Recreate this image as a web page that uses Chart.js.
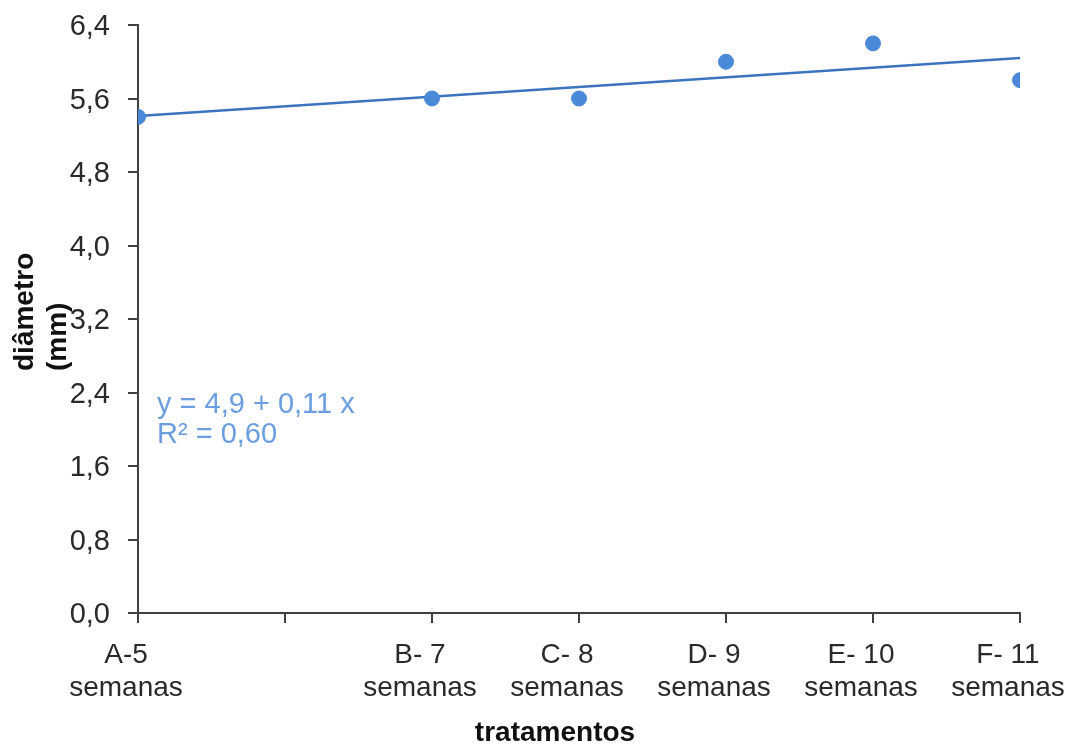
<!DOCTYPE html>
<html>
<head>
<meta charset="utf-8">
<script src="https://cdn.jsdelivr.net/npm/chart.js@4"></script>
<style>
html,body{margin:0;padding:0;background:#fff;}
#wrap{width:1068px;height:746px;position:relative;}
</style>
</head>
<body>
<div id="wrap"><canvas id="c" width="1068" height="746"></canvas></div>
<script>
// Data
const weeks = [5, 7, 8, 9, 10, 11];
const diametro = [5.4, 5.6, 5.6, 6.0, 6.2, 5.8];
const trendX = [5, 11];
const trendY = [5.41, 6.04];
const xTickValues = [5, 6, 7, 8, 9, 10, 11];
const xTickLabels = [['A-5', 'semanas'], '', ['B- 7', 'semanas'], ['C- 8', 'semanas'], ['D- 9', 'semanas'], ['E- 10', 'semanas'], ['F- 11', 'semanas']];
const yTicks = [0, 0.8, 1.6, 2.4, 3.2, 4.0, 4.8, 5.6, 6.4];
const xTitle = 'tratamentos';
const yTitle = ['diâmetro', '(mm)'];
const equation = ['y = 4,9 + 0,11 x', 'R² = 0,60'];

const FONT = '"Liberation Sans", Arial, sans-serif';
const axisColor = '#404040';

const textPlugin = {
  id: 'texts',
  afterDraw(chart) {
    const ctx = chart.ctx;
    ctx.save();
    ctx.fillStyle = '#111';
    ctx.font = 'bold 28px ' + FONT;
    ctx.textAlign = 'center';
    ctx.textBaseline = 'middle';
    ctx.fillText(xTitle, 555, 733);
    ctx.translate(0, 371);
    ctx.rotate(-Math.PI / 2);
    ctx.textAlign = 'left';
    ctx.fillText(yTitle[0], 0, 25);
    ctx.fillText(yTitle[1], 0, 58);
    ctx.restore();
    ctx.save();
    ctx.fillStyle = '#6a9ee0';
    ctx.font = '29px ' + FONT;
    ctx.textAlign = 'left';
    ctx.textBaseline = 'middle';
    ctx.fillText(equation[0], 157, 405);
    ctx.fillText(equation[1], 157, 435);
    ctx.restore();
  }
};

new Chart(document.getElementById('c'), {
  type: 'scatter',
  data: {
    datasets: [
      {
        label: 'diâmetro',
        data: weeks.map((w, i) => ({x: w, y: diametro[i]})),
        backgroundColor: '#4a88d8',
        borderColor: '#4a88d8',
        pointRadius: 7.5,
        pointHoverRadius: 7.5,
        showLine: false,
        order: 1
      },
      {
        label: 'tendência',
        data: trendX.map((w, i) => ({x: w, y: trendY[i]})),
        borderColor: '#3b73bf',
        backgroundColor: '#3b73bf',
        borderWidth: 2.5,
        pointRadius: 0,
        showLine: true,
        order: 2
      }
    ]
  },
  options: {
    responsive: false,
    animation: false,
    layout: {padding: {left: 0, right: 48, top: 25, bottom: 0}},
    plugins: {legend: {display: false}, tooltip: {enabled: false}},
    scales: {
      x: {
        type: 'linear',
        min: 5, max: 11,
        afterBuildTicks(scale) { scale.ticks = xTickValues.map(v => ({value: v})); },
        afterFit(scale) { scale.height = 133; scale.paddingLeft = 0; scale.paddingRight = 0; },
        ticks: {
          callback(v) { const i = xTickValues.indexOf(v); return i >= 0 ? xTickLabels[i] : ''; },
          color: '#2a2a2a',
          font: {family: FONT, size: 28, lineHeight: 1.2},
          padding: 15,
          labelOffset: -12,
          maxRotation: 0,
          autoSkip: false
        },
        grid: {drawOnChartArea: false, drawTicks: true, tickLength: 10, color: axisColor, lineWidth: 2},
        border: {display: true, color: axisColor, width: 2}
      },
      y: {
        min: 0, max: 6.4,
        afterBuildTicks(scale) { scale.ticks = yTicks.map(v => ({value: v})); },
        afterFit(scale) { scale.width = 138; scale.paddingTop = 0; scale.paddingBottom = 0; },
        ticks: {
          callback(v) { return v.toFixed(1).replace('.', ','); },
          color: '#2a2a2a',
          font: {family: FONT, size: 29},
          padding: 18,
          labelOffset: 2
        },
        grid: {drawOnChartArea: false, drawTicks: true, tickLength: 10, color: axisColor, lineWidth: 2},
        border: {display: true, color: axisColor, width: 2}
      }
    }
  },
  plugins: [textPlugin]
});
</script>
</body>
</html>
